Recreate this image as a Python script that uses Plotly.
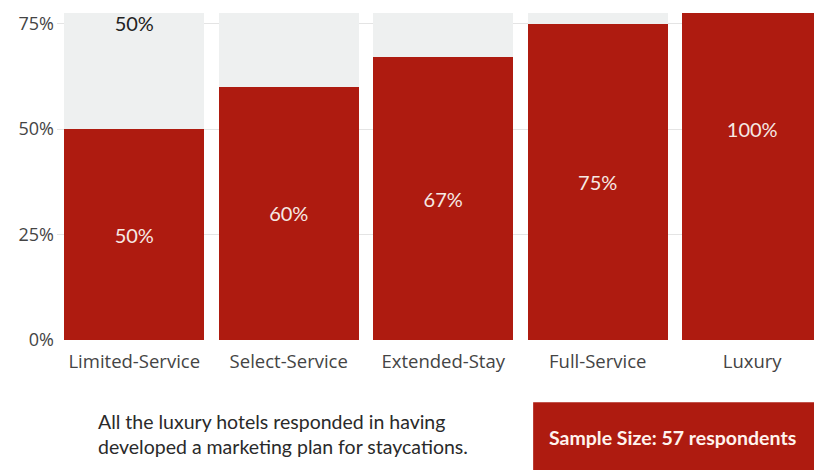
import plotly.graph_objects as go

categories = ["Limited-Service", "Select-Service", "Extended-Stay", "Full-Service", "Luxury"]
yes_values = [50, 60, 67, 75, 100]
rest_values = [50, 40, 33, 25, 0]
y_tick_vals = [0, 25, 50, 75]
y_tick_text = ["0%", "25%", "50%", "75%"]
y_max = 77.5
note_text = "All the luxury hotels responded in having<br>developed a marketing plan for staycations."
sample_text = "Sample Size: 57 respondents"

RED = "#AE1B10"
GRAY = "#EEF0F0"

# a grey label is only shown where its middle falls inside the visible range
rest_labels = [f"{r}%" if r > 0 and (y + r / 2) <= y_max else "" for y, r in zip(yes_values, rest_values)]

fig = go.Figure()
fig.add_trace(go.Bar(
    x=categories, y=yes_values,
    marker=dict(color=RED, line=dict(width=0)),
    text=[f"{v}%" for v in yes_values],
    textposition="inside", insidetextanchor="middle",
    textfont=dict(family="Lato", size=20, color="#F6E9E4"),
    textangle=0,
))
fig.add_trace(go.Bar(
    x=categories, y=rest_values,
    marker=dict(color=GRAY, line=dict(width=0)),
    text=rest_labels,
    textposition="inside", insidetextanchor="middle",
    textfont=dict(family="Lato", size=22, color="#222222"),
    textangle=0,
))

fig.update_layout(
    width=814, height=470,
    margin=dict(l=57, r=0, t=13, b=130),
    barmode="stack", bargap=0.094,
    paper_bgcolor="white", plot_bgcolor="white",
    showlegend=False,
    uniformtext=dict(mode="show", minsize=8),
    font=dict(family="Open Sans", color="#444444"),
    xaxis=dict(range=[-0.5, 4.4], showgrid=False, zeroline=False, showline=False,
               tickfont=dict(family="Open Sans", size=18.5, color="#444444"),
               ticks="", ticklen=0, ticklabelstandoff=8),
    yaxis=dict(range=[0, y_max], tickvals=y_tick_vals, ticktext=y_tick_text,
               showgrid=True, gridcolor="#E4E4E4", gridwidth=1, zeroline=False,
               showline=False, ticks="", ticklabelstandoff=2,
               tickfont=dict(family="Open Sans", size=18, color="#444444")),
)

fig.add_shape(type="rect", xref="paper", yref="paper",
              x0=0.629, x1=1.01, y0=-0.42, y1=-0.19,
              fillcolor=RED, line=dict(width=0), layer="above")
fig.add_annotation(xref="paper", yref="paper", x=0.8125, y=-0.297,
                   text=f"<b>{sample_text}</b>", showarrow=False,
                   font=dict(family="Lato", size=19.5, color="#FFF3EE"),
                   xanchor="center", yanchor="middle")
fig.add_annotation(xref="paper", yref="paper", x=0.051, y=-0.288,
                   text=note_text, showarrow=False, align="left",
                   font=dict(family="Lato", size=19.5, color="#2A2A2A"),
                   xanchor="left", yanchor="middle")

fig.write_html("out.html")
